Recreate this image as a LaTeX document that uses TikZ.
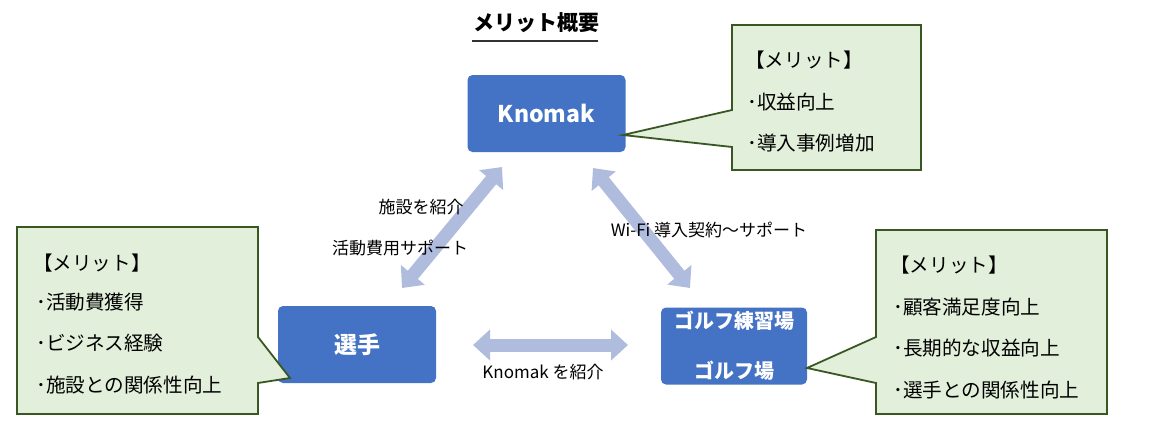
\documentclass[tikz,border=0pt]{standalone}
\usepackage{fontspec}
\setmainfont{Noto Sans CJK JP}
\usetikzlibrary{arrows.meta}
\definecolor{boxblue}{RGB}{68,114,196}
\definecolor{callfill}{RGB}{226,239,218}
\definecolor{calldraw}{RGB}{56,87,35}
\definecolor{arrowblue}{RGB}{176,188,222}
\tikzset{
  mainbox/.style={draw=none, fill=boxblue, rounded corners=5pt, text=white, font=\bfseries\fontsize{23}{26}\selectfont, inner sep=0pt, align=center},
  callout/.style={draw=calldraw, fill=callfill, line width=1.8pt, line join=miter},
  calltext/.style={anchor=west, inner sep=0pt, font=\fontsize{19.6}{22}\selectfont},
  flowlabel/.style={inner sep=0pt, font=\fontsize{17}{20}\selectfont},
  flowarrow/.style={draw=arrowblue, line width=13pt, {Triangle[length=17pt,width=30pt]}-{Triangle[length=17pt,width=30pt]}}
}
\begin{document}
\begin{tikzpicture}[x=1pt,y=-1pt]
\useasboundingbox (0,0) rectangle (1163,429);
% title
\node[inner sep=0pt, font=\bfseries\fontsize{21}{24}\selectfont] (title) at (536,23) {メリット概要};
\draw[line width=1.6pt, draw=black!80] (472,41) -- (598,41);
% main boxes
\node[mainbox, minimum width=158pt, minimum height=77pt] (knomak) at (546.5,113.5) {Knomak};
\node[mainbox, minimum width=158pt, minimum height=77pt] (senshu) at (357,344.5) {選手};
\node[mainbox, minimum width=146pt, minimum height=77pt, font=\bfseries\fontsize{20}{50}\selectfont] (golf) at (734,346) {ゴルフ練習場\\ゴルフ場};
% callouts
\draw[callout] (732,25) -- (921,25) -- (921,170) -- (732,170) -- (732,147) -- (623,135) -- (732,110) -- cycle;
\node[calltext] (k0) at (745,60) {【メリット】};
\node[calltext] (k1) at (747,102) {･収益向上};
\node[calltext] (k2) at (747,143) {･導入事例増加};
\draw[callout] (17,227) -- (258,227) -- (258,337) -- (290,378) -- (258,383) -- (258,414) -- (17,414) -- cycle;
\node[calltext] (s0) at (33,263) {【メリット】};
\node[calltext] (s1) at (36,302) {･活動費獲得};
\node[calltext] (s2) at (36,343) {･ビジネス経験};
\node[calltext] (s3) at (36,385) {･施設との関係性向上};
\draw[callout] (876,230) -- (1107,230) -- (1107,414) -- (876,414) -- (876,383) -- (807,368) -- (876,337) -- cycle;
\node[calltext] (g0) at (890,265) {【メリット】};
\node[calltext] (g1) at (893,307) {･顧客満足度向上};
\node[calltext] (g2) at (893,348) {･長期的な収益向上};
\node[calltext] (g3) at (893,390) {･選手との関係性向上};
% arrows
\coordinate (a1s) at (402,288);
\coordinate (a1e) at (502,167);
\coordinate (a2s) at (593,168);
\coordinate (a2e) at (690,288);
\coordinate (a3s) at (473,345);
\coordinate (a3e) at (628,345);
\draw[flowarrow] (a1s) -- (a1e);
\draw[flowarrow] (a2s) -- (a2e);
\draw[flowarrow] (a3s) -- (a3e);
% labels
\node[flowlabel] (l1) at (421,207) {施設を紹介};
\node[flowlabel] (l2) at (400,248) {活動費用サポート};
\node[flowlabel] (l3) at (709,230) {Wi-Fi 導入契約～サポート};
\node[flowlabel] (l4) at (543,372) {Knomak を紹介};
\end{tikzpicture}
\end{document}
